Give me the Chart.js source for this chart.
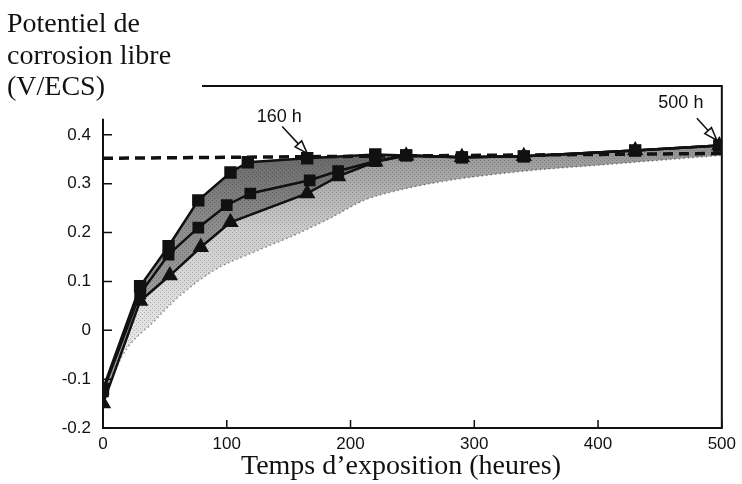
<!DOCTYPE html>
<html><head><meta charset="utf-8">
<script src="https://cdn.jsdelivr.net/npm/chart.js@4"></script>
<style>html,body{margin:0;padding:0;background:#fff}#wrap{width:742px;height:484px}</style>
</head><body><div id="wrap"><canvas id="c" width="742" height="484"></canvas></div>
<script>
// ---- data ----
const xTickValues = [0, 100, 200, 300, 400, 500];
const yTickValues = [-0.2, -0.1, 0, 0.1, 0.2, 0.3, 0.4];
const yTitleLines = ['Potentiel de', 'corrosion libre', '(V/ECS)'];
const xTitle = 'Temps d\u2019exposition (heures)';

const upperHours = [0, 30, 53, 77, 103, 117, 165, 220, 245, 290, 340, 430, 498];
const upperPot   = [-0.12, 0.09, 0.172, 0.266, 0.323, 0.344, 0.352, 0.36, 0.358, 0.354, 0.356, 0.368, 0.378];

const middleHours = [0, 30, 53, 77, 100, 119, 167, 190, 220, 245, 290, 340, 430, 498];
const middlePot   = [-0.125, 0.075, 0.155, 0.21, 0.256, 0.28, 0.307, 0.326, 0.346, 0.358, 0.354, 0.356, 0.368, 0.378];

const lowerHours = [0, 30, 54, 79, 103, 165, 190, 220, 245, 290, 340, 430, 498];
const lowerPot   = [-0.15, 0.06, 0.112, 0.17, 0.221, 0.28, 0.315, 0.345, 0.357, 0.354, 0.356, 0.368, 0.378];

const boundHours = [0, 15, 42, 61, 90, 122, 155, 184, 211, 238, 264, 291, 350, 400, 450, 500];
const boundPot   = [-0.15, -0.055, 0.02, 0.068, 0.123, 0.16, 0.195, 0.23, 0.266, 0.286, 0.30, 0.311, 0.328, 0.338, 0.348, 0.358];

const plateauHours = [0, 500];
const plateauPot   = [0.352, 0.362];

const noteLabels = ['160 h', '500 h'];
const noteHours  = [165, 496];
const notePot    = [0.362, 0.389];

// ---- helpers ----
const zip = (xs, ys) => xs.map((x, i) => ({ x: x, y: ys[i] }));
const serif = '"Liberation Serif", "Times New Roman", serif';
const sans = '"Liberation Sans", Arial, Helvetica, sans-serif';

function outerShade(context) {
  const chart = context.chart;
  const { chartArea, scales } = chart;
  if (!chartArea || !scales.y) return 'rgba(0,0,0,0.2)';
  const y = scales.y;
  const g = chart.ctx.createLinearGradient(0, y.getPixelForValue(0.37), 0, y.getPixelForValue(-0.1));
  g.addColorStop(0, 'rgba(0,0,0,0.42)');
  g.addColorStop(0.35, 'rgba(0,0,0,0.2)');
  g.addColorStop(1, 'rgba(0,0,0,0.06)');
  return g;
}

let stipple = null;
function stipplePattern(context) {
  if (!stipple) {
    const c = document.createElement('canvas');
    c.width = 4; c.height = 4;
    const cx = c.getContext('2d');
    cx.fillStyle = 'rgba(0,0,0,0.22)';
    cx.fillRect(0, 0, 1, 1);
    cx.fillRect(2, 2, 1, 1);
    stipple = context.chart.ctx.createPattern(c, 'repeat');
  }
  return stipple;
}

const framePlugin = {
  id: 'frame',
  afterDatasetsDraw(chart) {
    const { ctx, scales: { x, y } } = chart;
    const L = x.getPixelForValue(0), R = x.getPixelForValue(500);
    const B = y.getPixelForValue(-0.2), T = y.getPixelForValue(0.5);
    ctx.save();
    ctx.strokeStyle = '#111';
    ctx.lineWidth = 2;
    ctx.beginPath();
    ctx.moveTo(L, y.getPixelForValue(0.433)); ctx.lineTo(L, B); ctx.lineTo(R, B); ctx.lineTo(R, T);
    ctx.lineTo(x.getPixelForValue(80), T);
    ctx.stroke();
    ctx.lineWidth = 1.5;
    ctx.beginPath();
    yTickValues.forEach(v => { const p = y.getPixelForValue(v); ctx.moveTo(L, p); ctx.lineTo(L + 9, p); });
    xTickValues.forEach(v => { const p = x.getPixelForValue(v); ctx.moveTo(p, B); ctx.lineTo(p, B - 8); });
    ctx.stroke();
    // annotations
    const offs = [{ tx: -28, ty: -36, sx: -25, sy: -27 }, { tx: -36, ty: -37, sx: -20, sy: -22 }];
    noteLabels.forEach((lab, i) => {
      const px = x.getPixelForValue(noteHours[i]), py = y.getPixelForValue(notePot[i]);
      const o = offs[i];
      ctx.fillStyle = '#111';
      ctx.font = '18px ' + sans;
      ctx.textAlign = 'center'; ctx.textBaseline = 'middle';
      ctx.fillText(lab, px + o.tx, py + o.ty);
      const sx = px + o.sx, sy = py + o.sy;
      const ang = Math.atan2(py - sy, px - sx);
      const hl = 13, hw = 4.5;
      const bx = px - hl * Math.cos(ang), by = py - hl * Math.sin(ang);
      ctx.lineWidth = 1.5;
      ctx.beginPath(); ctx.moveTo(sx, sy); ctx.lineTo(bx, by); ctx.stroke();
      ctx.beginPath();
      ctx.moveTo(px, py);
      ctx.lineTo(bx + hw * Math.sin(ang), by - hw * Math.cos(ang));
      ctx.lineTo(bx - hw * Math.sin(ang), by + hw * Math.cos(ang));
      ctx.closePath();
      ctx.fillStyle = '#fff'; ctx.fill(); ctx.stroke();
    });
    // titles
    ctx.fillStyle = '#111';
    ctx.font = '28px ' + serif;
    ctx.textAlign = 'left'; ctx.textBaseline = 'alphabetic';
    yTitleLines.forEach((t, i) => ctx.fillText(t, 7, 32 + i * 31.5));
    ctx.textAlign = 'center'; ctx.textBaseline = 'alphabetic';
    ctx.fillText(xTitle, 401, 474);
    ctx.restore();
  }
};

new Chart(document.getElementById('c'), {
  type: 'line',
  data: {
    datasets: [
      { label: 'upper', data: zip(upperHours, upperPot), borderColor: '#111', borderWidth: 2.5,
        pointStyle: 'rect', pointRadius: 7, pointBackgroundColor: '#111', pointBorderColor: '#111',
        fill: false, order: 1, tension: 0 },
      { label: 'middle', data: zip(middleHours, middlePot), borderColor: '#111', borderWidth: 2.5,
        pointStyle: 'rect', pointRadius: 6.5, pointBackgroundColor: '#111', pointBorderColor: '#111',
        fill: false, order: 2, tension: 0 },
      { label: 'lower', data: zip(lowerHours, lowerPot), borderColor: '#111', borderWidth: 2.5,
        pointStyle: 'triangle', pointRadius: 7, pointBackgroundColor: '#111', pointBorderColor: '#111',
        fill: false, order: 3, tension: 0 },
      { label: 'plateau', data: zip(plateauHours, plateauPot), borderColor: '#111', borderWidth: 3.5,
        borderDash: [10, 6], pointRadius: 0, fill: false, order: 4 },
      { label: 'bound', data: zip(boundHours, boundPot), borderColor: 'rgba(0,0,0,0.4)', borderWidth: 1.5,
        borderDash: [1.5, 3], pointRadius: 0, fill: false, order: 5, cubicInterpolationMode: 'monotone' },
      { label: 'shadeOuter', data: zip(upperHours, upperPot), borderWidth: 0, borderColor: 'rgba(0,0,0,0)',
        pointRadius: 0, fill: { target: 4 }, backgroundColor: outerShade, order: 6 },
      { label: 'shadeInner', data: zip(upperHours, upperPot), borderWidth: 0, borderColor: 'rgba(0,0,0,0)',
        pointRadius: 0, fill: { target: 2 }, backgroundColor: 'rgba(0,0,0,0.3)', order: 7 },
      { label: 'shadeTexture', data: zip(upperHours, upperPot), borderWidth: 0, borderColor: 'rgba(0,0,0,0)',
        pointRadius: 0, fill: { target: 4 }, backgroundColor: stipplePattern, order: 8 }
    ]
  },
  options: {
    responsive: false,
    animation: false,
    devicePixelRatio: 1,
    layout: { padding: { top: 86, right: 15, left: 0, bottom: 0 } },
    plugins: { legend: { display: false }, tooltip: { enabled: false }, filler: { drawTime: 'beforeDatasetsDraw' } },
    scales: {
      x: {
        type: 'linear', min: 0, max: 500,
        grid: { display: false, drawTicks: false }, border: { display: false },
        afterBuildTicks: s => { s.ticks = xTickValues.map(v => ({ value: v })); },
        afterFit: s => { s.height = 56; },
        ticks: { padding: 6, color: '#111', font: { family: sans, size: 17 }, maxRotation: 0,
                 callback: v => String(v) }
      },
      y: {
        type: 'linear', min: -0.2, max: 0.5,
        grid: { display: false, drawTicks: false }, border: { display: false },
        afterBuildTicks: s => { s.ticks = yTickValues.map(v => ({ value: v })); },
        afterFit: s => { s.width = 103; },
        ticks: { padding: 12, color: '#111', font: { family: sans, size: 17 },
                 callback: v => String(Math.round(v * 10) / 10) }
      }
    }
  },
  plugins: [framePlugin]
});
</script>
</body></html>
